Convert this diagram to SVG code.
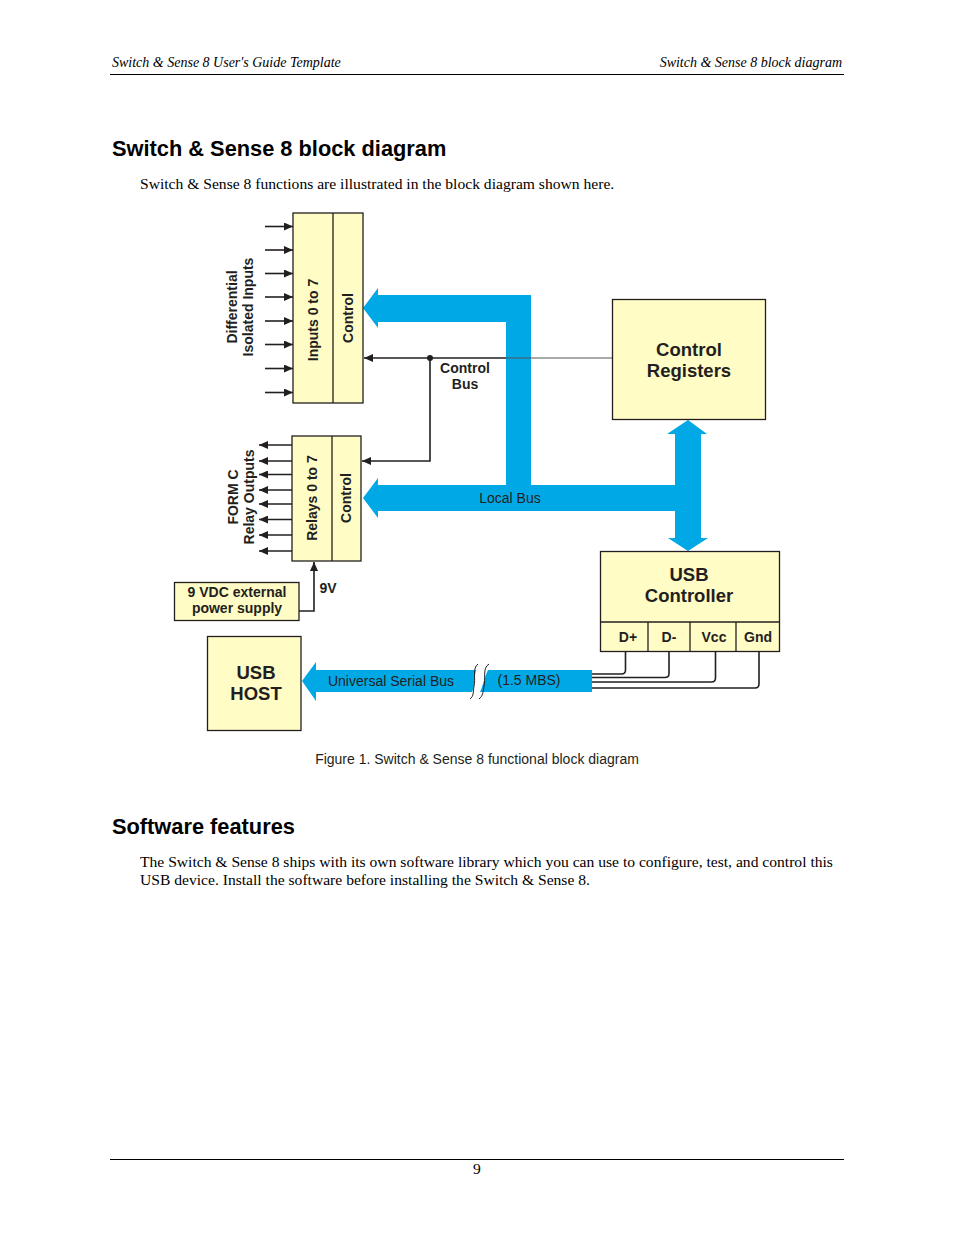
<svg xmlns="http://www.w3.org/2000/svg" width="954" height="1235" viewBox="0 0 954 1235">
<defs>
<style>
.hdr{font-family:"Liberation Serif",serif;font-style:italic;font-size:14px;fill:#000}
.h1{font-family:"Liberation Sans",Arial,sans-serif;font-weight:bold;font-size:21.8px;fill:#000}
.body{font-family:"Liberation Serif",serif;font-size:15.6px;fill:#000}
.box{fill:#FFFCC5;stroke:#231F20;stroke-width:1.3}
.lb{font-family:"Liberation Sans",Arial,sans-serif;font-weight:bold;font-size:14px;fill:#231F20;text-anchor:middle}
.lbig{font-family:"Liberation Sans",Arial,sans-serif;font-weight:bold;font-size:18.5px;fill:#231F20;text-anchor:middle}
.ln{font-family:"Liberation Sans",Arial,sans-serif;font-size:14px;fill:#231F20;text-anchor:middle}
.wire{fill:none;stroke:#231F20;stroke-width:1.6}
.blue{fill:#00A8E6}
</style>
<marker id="ah" markerWidth="9" markerHeight="8" refX="9" refY="4" orient="auto" markerUnits="userSpaceOnUse">
<path d="M0,0 L9,4 L0,8 z" fill="#231F20"/>
</marker>
</defs>

<!-- page header/footer -->
<g id="page">
<text class="hdr" x="112" y="67">Switch &amp; Sense 8 User's Guide Template</text>
<text class="hdr" x="842" y="67" text-anchor="end">Switch &amp; Sense 8 block diagram</text>
<line x1="110" y1="74.5" x2="844" y2="74.5" stroke="#000" stroke-width="1"/>
<text class="h1" x="112" y="156">Switch &amp; Sense 8 block diagram</text>
<text class="body" x="140" y="189">Switch &amp; Sense 8 functions are illustrated in the block diagram shown here.</text>
<text class="ln" x="477" y="764">Figure 1. Switch &amp; Sense 8 functional block diagram</text>
<text class="h1" x="112" y="834">Software features</text>
<text class="body" x="140" y="867">The Switch &amp; Sense 8 ships with its own software library which you can use to configure, test, and control this</text>
<text class="body" x="140" y="885">USB device. Install the software before installing the Switch &amp; Sense 8.</text>
<line x1="110" y1="1159.5" x2="844" y2="1159.5" stroke="#000" stroke-width="1"/>
<text class="body" x="477" y="1174" text-anchor="middle" font-size="13.5">9</text>
</g>

<!-- blue buses -->
<g id="buses">
<path class="blue" d="M363,308 L378,288 L378,295 L531,295 L531,486 L506,486 L506,322 L378,322 L378,328 Z"/>
<path class="blue" d="M363,498 L378,478 L378,485 L676,485 L676,511 L378,511 L378,518 Z"/>
<path class="blue" d="M688,420 L707,434 L701,434 L701,538 L708,538 L688,551 L668,538 L675,538 L675,434 L667,434 Z"/>
<path class="blue" d="M302,681 L316,662 L316,670 L476,670 C474,678 475,686 472,692 L316,692 L316,701 Z"/>
<path class="blue" d="M488,670 L592,670 L592,692 L480,692 C483,686 484,678 488,670 Z"/>
<path d="M478,664 C472,668 476,680 474,686 C473,692 474,696 470,699" fill="none" stroke="#231F20" stroke-width="1"/>
<path d="M489,664 C482,668 486,680 484,686 C483,692 483,696 479,699" fill="none" stroke="#231F20" stroke-width="1"/>
<text class="ln" x="510" y="503">Local Bus</text>
<text class="ln" x="391" y="686">Universal Serial Bus</text>
<text class="ln" x="529" y="685">(1.5 MBS)</text>
</g>

<!-- connectors -->
<g id="connectors">
<line class="wire" x1="265" y1="226.5" x2="293" y2="226.5" marker-end="url(#ah)"/>
<line class="wire" x1="265" y1="250" x2="293" y2="250" marker-end="url(#ah)"/>
<line class="wire" x1="265" y1="273.5" x2="293" y2="273.5" marker-end="url(#ah)"/>
<line class="wire" x1="265" y1="297" x2="293" y2="297" marker-end="url(#ah)"/>
<line class="wire" x1="265" y1="321" x2="293" y2="321" marker-end="url(#ah)"/>
<line class="wire" x1="265" y1="344.5" x2="293" y2="344.5" marker-end="url(#ah)"/>
<line class="wire" x1="265" y1="368.5" x2="293" y2="368.5" marker-end="url(#ah)"/>
<line class="wire" x1="265" y1="392.5" x2="293" y2="392.5" marker-end="url(#ah)"/>

<line class="wire" x1="293" y1="445" x2="259" y2="445" marker-end="url(#ah)"/>
<line class="wire" x1="293" y1="461" x2="259" y2="461" marker-end="url(#ah)"/>
<line class="wire" x1="293" y1="474.5" x2="259" y2="474.5" marker-end="url(#ah)"/>
<line class="wire" x1="293" y1="490" x2="259" y2="490" marker-end="url(#ah)"/>
<line class="wire" x1="293" y1="504" x2="259" y2="504" marker-end="url(#ah)"/>
<line class="wire" x1="293" y1="519.5" x2="259" y2="519.5" marker-end="url(#ah)"/>
<line class="wire" x1="293" y1="535" x2="259" y2="535" marker-end="url(#ah)"/>
<line class="wire" x1="293" y1="551" x2="259" y2="551" marker-end="url(#ah)"/>

<path class="wire" d="M299,611 H314 V562" marker-end="url(#ah)"/>
<text class="lb" x="328" y="593" font-size="13">9V</text>

<line x1="612" y1="358" x2="506" y2="358" stroke="#555" stroke-width="1"/>
<path class="wire" d="M506,358 H364" marker-end="url(#ah)"/>
<path class="wire" d="M430,358 V461 H362" marker-end="url(#ah)"/>
<circle cx="430" cy="358" r="3" fill="#231F20"/>
<text class="lb" x="465" y="373">Control</text>
<text class="lb" x="465" y="389">Bus</text>

<path class="wire" d="M625.5,652 V670 Q625.5,674 621.5,674 H592"/>
<path class="wire" d="M669,652 V673.5 Q669,677.5 665,677.5 H592"/>
<path class="wire" d="M715.5,652 V678 Q715.5,682 711.5,682 H592"/>
<path class="wire" d="M759,652 V684 Q759,688 755,688 H592"/>
</g>

<!-- inputs block -->
<g id="inputs">
<rect class="box" x="293" y="213" width="70" height="190"/>
<line x1="333" y1="213" x2="333" y2="403" stroke="#231F20" stroke-width="1.3"/>
<text class="lb" transform="translate(318,320) rotate(-90)">Inputs 0 to 7</text>
<text class="lb" transform="translate(353,318) rotate(-90)">Control</text>
<text class="lb" transform="translate(237,307) rotate(-90)">Differential</text>
<text class="lb" transform="translate(253,307) rotate(-90)">Isolated Inputs</text>
</g>

<!-- relays block -->
<g id="relays">
<rect class="box" x="292" y="436" width="69" height="125"/>
<line x1="332" y1="436" x2="332" y2="561" stroke="#231F20" stroke-width="1.3"/>
<text class="lb" transform="translate(317,498) rotate(-90)">Relays 0 to 7</text>
<text class="lb" transform="translate(351,498) rotate(-90)">Control</text>
<text class="lb" transform="translate(238,497) rotate(-90)">FORM C</text>
<text class="lb" transform="translate(254,497) rotate(-90)">Relay Outputs</text>
</g>

<!-- control registers -->
<g id="control-registers">
<rect class="box" x="612.5" y="299.5" width="153" height="120"/>
<text class="lbig" x="689" y="356">Control</text>
<text class="lbig" x="689" y="377">Registers</text>
</g>

<!-- usb controller -->
<g id="usb-controller">
<rect class="box" x="600.5" y="551.5" width="179" height="100"/>
<line x1="600.5" y1="622" x2="779.5" y2="622" stroke="#231F20" stroke-width="1.3"/>
<line x1="648" y1="622" x2="648" y2="651.5" stroke="#231F20" stroke-width="1.3"/>
<line x1="690" y1="622" x2="690" y2="651.5" stroke="#231F20" stroke-width="1.3"/>
<line x1="736" y1="622" x2="736" y2="651.5" stroke="#231F20" stroke-width="1.3"/>
<text class="lbig" x="689" y="581">USB</text>
<text class="lbig" x="689" y="602">Controller</text>
<text class="lb" x="628" y="642" font-size="13.5">D+</text>
<text class="lb" x="669" y="642" font-size="13.5">D-</text>
<text class="lb" x="714" y="642" font-size="13.5">Vcc</text>
<text class="lb" x="758" y="642" font-size="13.5">Gnd</text>
</g>

<!-- power supply -->
<g id="power-supply">
<rect class="box" x="174.5" y="582.5" width="124.5" height="38"/>
<text class="lb" x="237" y="597">9 VDC external</text>
<text class="lb" x="237" y="613">power supply</text>
</g>

<!-- usb host -->
<g id="usb-host">
<rect class="box" x="207.5" y="636.5" width="93.5" height="94"/>
<text class="lbig" x="256" y="679">USB</text>
<text class="lbig" x="256" y="700">HOST</text>
</g>
</svg>
